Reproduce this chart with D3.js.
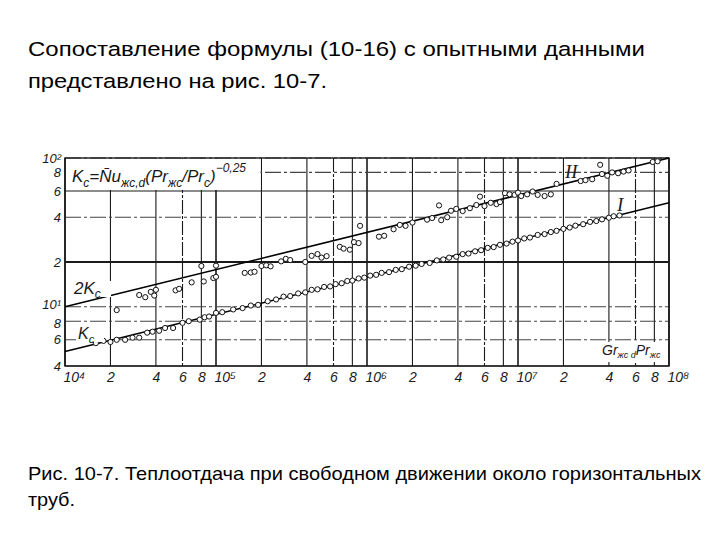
<!DOCTYPE html>
<html>
<head>
<meta charset="utf-8">
<script src="https://cdn.jsdelivr.net/npm/d3@7"></script>
<style>
  body { margin: 0; background: #fff; }
  svg { display: block; }
</style>
</head>
<body>
<div id="chart"></div>
<script>
// Gr·Pr (x) and K values, series I (lower) and II (upper)
const seriesIX = [1.6e4, 1.8e4, 2.0e4, 2.2e4, 2.5e4, 2.8e4, 3.1e4, 3.5e4, 3.8e4, 4.2e4, 4.6e4, 5.2e4,
  6.0e4, 6.6e4, 7.8e4, 8.4e4, 9.0e4, 1.0e5, 1.1e5, 1.3e5, 1.5e5, 1.7e5, 1.9e5, 2.2e5, 2.5e5, 2.8e5,
  3.1e5, 3.5e5, 3.9e5, 4.3e5, 4.7e5, 5.2e5, 5.7e5, 6.2e5, 6.8e5, 7.4e5, 8.0e5, 8.8e5, 9.6e5, 1.05e6,
  1.15e6, 1.25e6, 1.4e6, 1.55e6, 1.7e6, 1.9e6, 2.1e6, 2.3e6, 2.6e6, 2.9e6, 3.2e6, 3.5e6, 3.9e6, 4.3e6,
  4.7e6, 5.2e6, 5.7e6, 6.3e6, 6.9e6, 7.6e6, 8.4e6, 9.2e6, 1.0e7, 1.1e7, 1.2e7, 1.35e7, 1.5e7, 1.65e7,
  1.8e7, 2.0e7, 2.2e7, 2.4e7, 2.7e7, 3.0e7, 3.3e7, 3.6e7, 4.0e7, 4.3e7, 4.7e7];
const seriesIY = [5.7, 5.9, 5.8, 6.0, 6.0, 6.2, 6.2, 6.7, 6.8, 6.9, 7.2, 7.2,
  7.8, 8.0, 8.2, 8.5, 8.6, 9.1, 9.2, 9.6, 9.8, 10.2, 10.3, 10.9, 11.2, 11.7,
  11.8, 12.3, 12.5, 13.0, 13.1, 13.6, 13.7, 14.2, 14.4, 14.9, 15.0, 15.5, 15.7, 16.2,
  16.4, 16.9, 17.1, 17.7, 17.9, 18.6, 18.9, 19.4, 19.7, 20.5, 20.8, 21.4, 21.7, 22.6,
  22.8, 23.6, 24.0, 24.9, 25.2, 26.1, 26.6, 27.4, 27.9, 28.8, 29.2, 30.4, 30.8, 31.8,
  32.4, 33.4, 34.1, 35.1, 35.9, 37.2, 37.7, 38.7, 39.7, 40.6, 41.1];

const seriesIIX = [2.2e4, 3.1e4, 3.4e4, 3.7e4, 3.9e4, 4.0e4, 5.4e4, 5.7e4, 6.9e4, 8.0e4, 8.3e4, 9.6e4,
  1.0e5, 1.0e5, 1.55e5, 1.7e5, 1.8e5, 2.0e5, 2.15e5, 2.3e5, 2.7e5, 2.9e5, 3.1e5, 3.9e5, 4.3e5, 4.7e5,
  5.0e5, 5.4e5, 6.6e5, 7.0e5, 7.7e5, 8.2e5, 8.8e5, 9.0e5, 1.2e6, 1.3e6, 1.5e6, 1.65e6, 1.8e6, 2.0e6,
  2.5e6, 2.7e6, 3.0e6, 3.1e6, 3.4e6, 3.6e6, 3.9e6, 4.3e6, 4.8e6, 5.3e6, 5.6e6, 6.0e6, 6.6e6, 7.2e6,
  7.6e6, 8.2e6, 8.8e6, 9.5e6, 1.0e7, 1.05e7, 1.15e7, 1.25e7, 1.35e7, 1.5e7, 1.65e7, 1.8e7, 2.6e7,
  2.8e7, 3.1e7, 3.5e7, 3.6e7, 3.9e7, 4.2e7, 4.6e7, 5.0e7, 5.4e7, 7.8e7, 8.4e7];
const seriesIIY = [9.5, 12.0, 11.6, 12.6, 11.9, 13.0, 12.9, 13.2, 14.6, 18.8, 14.8, 15.6,
  18.9, 15.9, 16.9, 17.0, 17.2, 18.8, 19.0, 18.7, 20.2, 21.0, 20.6, 20.0, 22.0, 22.6,
  21.4, 21.9, 25.3, 24.6, 24.2, 27.2, 26.8, 35.0, 29.6, 30.0, 33.2, 35.5, 35.0, 36.8,
  38.5, 39.5, 48.0, 38.2, 40.0, 44.2, 45.5, 44.0, 46.0, 48.3, 55.0, 47.5, 50.0, 49.0,
  50.5, 58.0, 57.0, 56.5, 58.5, 55.5, 57.0, 59.5, 56.5, 55.5, 57.0, 67.0, 70.0,
  71.0, 72.0, 90.0, 78.0, 76.0, 80.0, 79.0, 81.0, 82.5, 94.0, 95.0];

// fitted lines: K_c and 2K_c, end points
const lineX = [1e4, 1e8];
const lineKc = [5, 50];
const line2Kc = [10, 100];

const xTicks = [1e4, 2e4, 4e4, 6e4, 8e4, 1e5, 2e5, 4e5, 6e5, 8e5, 1e6, 2e6, 4e6, 6e6, 8e6,
  1e7, 2e7, 4e7, 6e7, 8e7, 1e8];
const xTickLabels = ['10⁴', '2', '4', '6', '8', '10⁵', '2', '4', '6', '8', '10⁶', '2', '4', '6', '8',
  '10⁷', '2', '4', '6', '8', '10⁸'];
const yTicks = [4, 6, 8, 10, 20, 40, 60, 80, 100];
const yTickLabels = ['4', '6', '8', '10¹', '2', '4', '6', '8', '10²'];

const svg = d3.select('#chart').append('svg')
  .attr('width', 720)
  .attr('height', 540);

const textFont = '"Liberation Sans", Arial, sans-serif';

// page text
const addLine = (str, x, y, size, len) => svg.append('text')
  .attr('x', x).attr('y', y)
  .attr('font-family', textFont)
  .attr('font-size', size)
  .attr('fill', '#000')
  .attr('textLength', len)
  .attr('lengthAdjust', 'spacingAndGlyphs')
  .text(str);

addLine('Сопоставление формулы (10-16) с опытными данными', 28, 56, 20.5, 617);
addLine('представлено на рис. 10-7.', 28, 88, 20.5, 299);
addLine('Рис. 10-7. Теплоотдача при свободном движении около горизонтальных', 28, 480, 18.5, 673);
addLine('труб.', 28, 506, 18.5, 47);

const x = d3.scaleLog().domain([1e4, 1e8]).range([65, 669]);
const y = d3.scaleLog().domain([4, 100]).range([366, 158]);

const ink = '#1a1a1a';

// vertical grid
svg.append('g')
  .selectAll('line')
  .data(xTicks)
  .enter().append('line')
  .attr('x1', (d) => x(d)).attr('x2', (d) => x(d))
  .attr('y1', y(100)).attr('y2', y(4))
  .attr('stroke', ink)
  .attr('stroke-width', (d, i) => (i % 5 === 0 ? 1.6 : 1.1))
  .attr('stroke-dasharray', (d, i) => (i % 5 === 3 ? '14,2,3,2' : null));

// horizontal grid
svg.append('g')
  .selectAll('line')
  .data(yTicks)
  .enter().append('line')
  .attr('x1', x(1e4)).attr('x2', x(1e8))
  .attr('y1', (d) => y(d)).attr('y2', (d) => y(d))
  .attr('stroke', (d) => (d === 20 || d === 60 || d === 4 ? ink : '#444'))
  .attr('stroke-width', (d) => (d === 20 ? 2 : 1.1))
  .attr('stroke-dasharray', (d) => (d === 20 || d === 60 || d === 4 ? null : '16,3,3,3'));

// formula box (cell left free of grid)
svg.append('rect')
  .attr('x', x(1e4) + 1)
  .attr('y', y(100) + 1)
  .attr('width', x(2e5) - x(1e4) - 2)
  .attr('height', y(60) - y(100) - 2)
  .attr('fill', '#fff');

const formula = svg.append('text')
  .attr('x', 72).attr('y', 182)
  .attr('font-family', textFont)
  .attr('font-style', 'italic')
  .attr('font-size', 17)
  .attr('fill', ink);
formula.append('tspan').text('K');
formula.append('tspan').attr('font-size', 12).attr('dy', 5).text('c');
formula.append('tspan').attr('dy', -5).text('=N\u0304u');
formula.append('tspan').attr('font-size', 12).attr('dy', 5).text('жс,d');
formula.append('tspan').attr('dy', -5).text('(Pr');
formula.append('tspan').attr('font-size', 12).attr('dy', 5).text('жс');
formula.append('tspan').attr('dy', -5).text('/Pr');
formula.append('tspan').attr('font-size', 12).attr('dy', 5).text('c');
formula.append('tspan').attr('dy', -5).text(')');
formula.append('tspan').attr('font-size', 12).attr('dy', -10).text('−0,25');

// frame
svg.append('rect')
  .attr('x', x(1e4)).attr('y', y(100))
  .attr('width', x(1e8) - x(1e4)).attr('height', y(4) - y(100))
  .attr('fill', 'none')
  .attr('stroke', ink)
  .attr('stroke-width', 1.4);

// fitted lines
const lineGen = d3.line().x((d) => x(d[0])).y((d) => y(d[1]));
[lineKc, line2Kc].forEach((vals) => {
  svg.append('path')
    .datum(lineX.map((v, i) => [v, vals[i]]))
    .attr('d', lineGen)
    .attr('fill', 'none')
    .attr('stroke', '#000')
    .attr('stroke-width', 1.6);
});

// experimental points
[[seriesIX, seriesIY], [seriesIIX, seriesIIY]].forEach(([xs, ys]) => {
  svg.append('g')
    .selectAll('circle')
    .data(xs.map((v, i) => [v, ys[i]]))
    .enter().append('circle')
    .attr('cx', (d) => x(d[0]))
    .attr('cy', (d) => y(d[1]))
    .attr('r', 2.6)
    .attr('fill', '#fff')
    .attr('stroke', '#111')
    .attr('stroke-width', 1);
});

// axes
const xAxis = svg.append('g')
  .attr('transform', `translate(0,${y(4)})`)
  .call(d3.axisBottom(x).tickValues(xTicks).tickSize(0).tickPadding(6)
    .tickFormat((d, i) => xTickLabels[i]));
xAxis.select('.domain').remove();
xAxis.selectAll('text')
  .attr('font-family', textFont)
  .attr('font-style', 'italic')
  .attr('font-size', 14)
  .attr('fill', ink)
  .attr('text-anchor', (d, i) => (xTickLabels[i].length > 1 ? 'start' : 'middle'))
  .attr('dx', (d, i) => (xTickLabels[i].length > 1 ? -2 : 0));

const yAxis = svg.append('g')
  .attr('transform', `translate(${x(1e4)},0)`)
  .call(d3.axisLeft(y).tickValues(yTicks).tickSize(0).tickPadding(4)
    .tickFormat((d, i) => yTickLabels[i]));
yAxis.select('.domain').remove();
yAxis.selectAll('text')
  .attr('font-family', textFont)
  .attr('font-style', 'italic')
  .attr('font-size', 13)
  .attr('fill', ink)
  .attr('dy', (d) => (d === 10 ? '0.1em' : d === 8 ? '0.45em' : '0.32em'));

// series labels
const label = (parts, px, py, size) => {
  const t = svg.append('text')
    .attr('x', px).attr('y', py)
    .attr('font-family', textFont)
    .attr('font-style', 'italic')
    .attr('font-size', size)
    .attr('fill', ink);
  parts.forEach(([s, sub]) => {
    t.append('tspan')
      .attr('font-size', sub ? size * 0.7 : size)
      .attr('dy', sub ? 4 : 0)
      .text(s);
  });
  return t;
};
svg.append('rect').attr('x', 73).attr('y', 281).attr('width', 38).attr('height', 16).attr('fill', '#fff');
label([['2K', false], ['c', true]], 74, 294, 17);
svg.append('rect').attr('x', 76).attr('y', 326).attr('width', 28).attr('height', 16).attr('fill', '#fff');
label([['K', false], ['c', true]], 78, 339, 16);

svg.append('text')
  .attr('x', 565).attr('y', 178)
  .attr('font-family', '"Liberation Serif", serif')
  .attr('font-style', 'italic')
  .attr('font-size', 19)
  .attr('fill', ink)
  .text('II');
svg.append('text')
  .attr('x', 617).attr('y', 211)
  .attr('font-family', '"Liberation Serif", serif')
  .attr('font-style', 'italic')
  .attr('font-size', 19)
  .attr('fill', ink)
  .text('I');

// x axis title
svg.append('rect').attr('x', 600).attr('y', 342).attr('width', 64).attr('height', 20).attr('fill', '#fff');
const xt = svg.append('text')
  .attr('x', 602).attr('y', 355)
  .attr('font-family', textFont)
  .attr('font-style', 'italic')
  .attr('font-size', 14)
  .attr('fill', ink);
xt.append('tspan').text('Gr');
xt.append('tspan').attr('font-size', 9).attr('dy', 3).text('жс d');
xt.append('tspan').attr('dy', -3).text('Pr');
xt.append('tspan').attr('font-size', 9).attr('dy', 3).text('жс');
</script>
</body>
</html>
